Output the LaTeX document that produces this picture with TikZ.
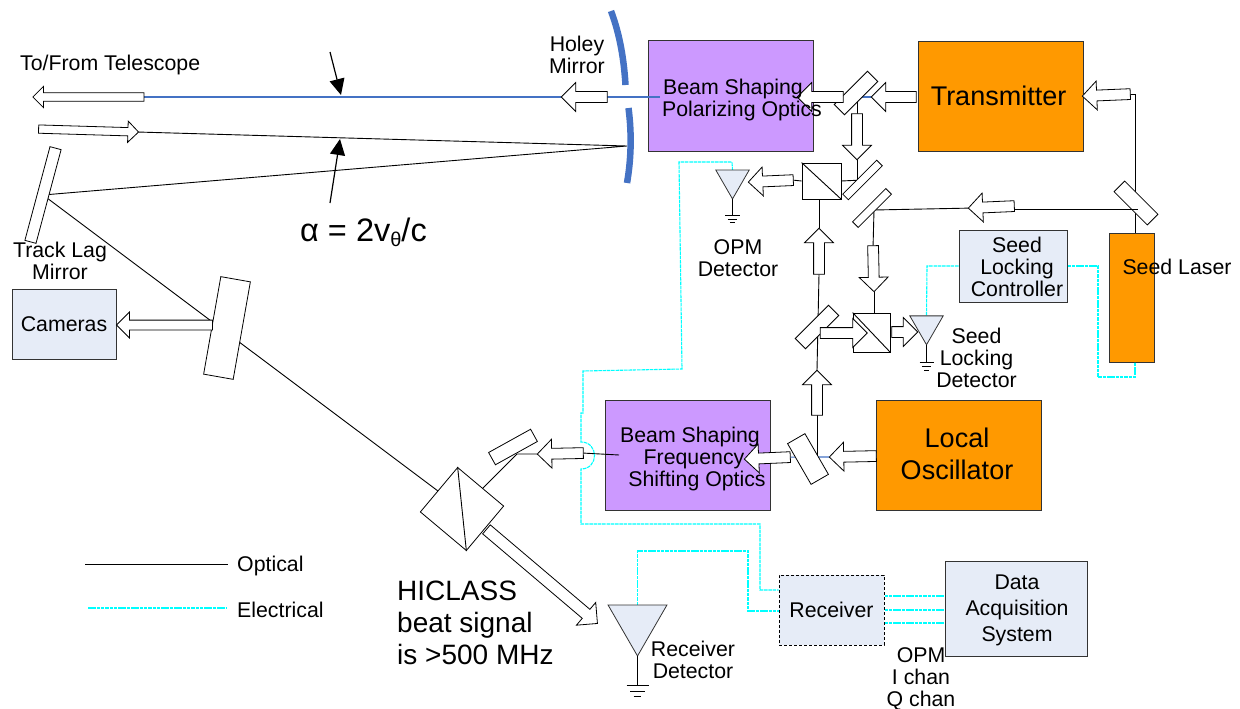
\documentclass[tikz,border=0pt]{standalone}
\usepackage{fontspec}
\setmainfont{Liberation Sans}
\usetikzlibrary{arrows.meta,shapes.arrows,shapes.geometric}
\pgfdeclarelayer{boxes}
\pgfdeclarelayer{beams}
\pgfsetlayers{boxes,beams,main}
\definecolor{orangebox}{HTML}{FF9900}
\definecolor{purplebox}{HTML}{CC99FF}
\definecolor{palebox}{HTML}{E6ECF7}
\definecolor{holeyblue}{HTML}{4472C4}
\definecolor{wirecyan}{RGB}{0,255,255}
\tikzset{
  lab/.style={align=center,inner sep=0pt,font=\fontsize{21.3}{22}\selectfont},
  biglab/.style={align=center,inner sep=0pt,font=\fontsize{27}{32}\selectfont},
  hugelab/.style={align=left,inner sep=0pt,font=\fontsize{28}{32}\selectfont},
  sizedbox/.style n args={2}{rectangle,draw=black!80,line width=1pt,inner sep=0pt,minimum width=#1,minimum height=#2},
  mirror/.style n args={2}{rectangle,draw,fill=white,line width=.8pt,inner sep=0pt,minimum width=#1,minimum height=#2},
  blockarrow/.style={single arrow,draw,fill=white,line width=.8pt,inner xsep=0pt,inner ysep=5pt,outer sep=0pt,
    single arrow head extend=9pt,minimum height=#1},
  smallarrow/.style={blockarrow=#1,inner ysep=3.75pt,single arrow head extend=6.5pt},
  detector/.style={regular polygon,regular polygon sides=3,shape border rotate=180,draw=black!80,fill=palebox,
    line width=.8pt,inner sep=0pt,outer sep=0pt,minimum size=#1},
  beam/.style={line width=.9pt},
  bluebeam/.style={line width=1.2pt,holeyblue},
  wire/.style={line width=1.1pt,wirecyan,dash pattern=on 3.5pt off .8pt},
  holey/.style={line width=6.5pt,holeyblue},
  alphaarrow/.style={line width=1.2pt,-{Triangle[length=16pt,width=15pt]}}
}
% ground symbol: anchor, stem, half width
\newcommand{\earth}[3]{\draw[beam] #1 -- ++(0,#2) ++({-#3},0) -- ++({2*#3},0) ++({-1.65*#3},{.55*#3}) -- ++({1.3*#3},0) ++({-#3},{.5*#3}) -- ++({.7*#3},0);}
\begin{document}
\begin{tikzpicture}[x=1pt,y=-1pt]
\useasboundingbox (0,0) rectangle (1240,709);
% boxes
\begin{pgfonlayer}{boxes}
\node[sizedbox={165pt}{110pt},fill=purplebox] (polbox) at (730.5,96) {};
\node[sizedbox={165pt}{110pt},fill=purplebox] (freqbox) at (687.5,455.5) {};
\node[sizedbox={165pt}{110pt},fill=orangebox] (transmitter) at (1000.5,96.5) {};
\node[sizedbox={165pt}{110pt},fill=orangebox] (localosc) at (958.5,455.5) {};
\node[sizedbox={45pt}{129pt},fill=orangebox] (laser) at (1131.5,297.5) {};
\node[sizedbox={108pt}{72pt},fill=palebox] (lockctl) at (1013,266) {};
\node[sizedbox={104pt}{70pt},fill=palebox,lab] (cameras) at (64,324) {Cameras};
\node[sizedbox={105pt}{70pt},fill=palebox,lab,densely dashed,draw=black] (receiver) at (831.5,610) {Receiver};
\node[sizedbox={142pt}{95pt},fill=palebox] (daq) at (1016,608.5) {};
\end{pgfonlayer}
% mirrors
\node[mirror={47pt}{14.5pt},rotate=45] (mtop) at (856,93) {};
\node[mirror={48pt}{8pt},rotate=45] (mopm) at (862.5,180) {};
\node[mirror={47pt}{8pt},rotate=45] (mseed) at (872,208) {};
\node[mirror={47pt}{15pt},rotate=-45] (mlaser) at (1136,203) {};
\node[mirror={47pt}{14.5pt},rotate=45] (mlock) at (817,327) {};
\node[mirror={47pt}{20pt},rotate=-60] (mlo) at (808,459) {};
\node[mirror={48pt}{14pt},rotate=29] (mhic) at (513,447) {};
\node[mirror={97pt}{11.5pt},rotate=75] (tracklag) at (43,195) {};
\node[mirror={99pt}{30pt},rotate=80] (mcam) at (227,328) {};
\node[mirror={60pt}{58pt},rotate=-40] (split) at (462,509) {};
\draw[beam] (split.north west) -- (split.south east);
% cubes
\node[mirror={39pt}{36pt}] (cubeopm) at (821.5,181) {};
\draw[beam] (cubeopm.north west) -- (cubeopm.south east);
\node[mirror={37pt}{39pt}] (cubelock) at (871.5,332.5) {};
\draw[beam] (cubelock.north west) -- (cubelock.south east);
% detectors
\node[detector=38.5pt] (opmdet) at (732.5,179.7) {};
\node[detector=38.5pt] (lockdet) at (926.5,325.5) {};
\node[detector=68pt] (recdet) at (637.5,622) {};
\earth{(opmdet.south)}{16}{7.5}
\earth{(lockdet.south)}{18}{7}
\earth{(recdet.south)}{29}{11}
% block arrows
\node[smallarrow=111pt,rotate=180] (atel) at (90.5,97) {};
\node[smallarrow=100pt,rotate=-1.7] (aret) at (86.5,130.5) {};
\node[blockarrow=46pt,rotate=180] (ahole) at (587,97) {};
\node[blockarrow=46pt,rotate=180] (apol) at (823,97) {};
\node[blockarrow=45pt,rotate=180] (atrans) at (896.5,97) {};
\node[blockarrow=46pt,rotate=-90] (adown) at (857,134) {};
\node[blockarrow=45pt,rotate=182.5] (aopm) at (773.5,181) {};
\node[blockarrow=46pt,rotate=90] (aup) at (819,254) {};
\node[blockarrow=48pt,rotate=182.4] (aseed) at (1109,95) {};
\node[blockarrow=46pt,rotate=182.5] (aseedw) at (994,207) {};
\node[blockarrow=46pt,rotate=-88.8] (aseeds) at (873.5,266) {};
\node[blockarrow=47pt] (alock) at (841,333) {};
\node[blockarrow=26pt] (adet) at (902,332) {};
\node[blockarrow=45pt,rotate=90] (aup2) at (817,395.5) {};
\node[blockarrow=47pt,rotate=181.2] (alo) at (855.5,456.5) {};
\node[blockarrow=46pt,rotate=182.5] (afreq) at (770,458) {};
\node[blockarrow=46pt,rotate=181.2] (ahic) at (563,453.5) {};
\node[blockarrow=145.5pt,inner ysep=5.5pt,rotate=-40.3] (abeat) at (539.7,574.5) {};
\node[blockarrow=96pt,inner ysep=4.5pt,single arrow head extend=8pt,rotate=180] (acam) at (167,325) {};
% free ends of the beams
\coordinate (polend) at (660,97);
\coordinate (holeyhit) at (627,146);
\coordinate (hichit) at (517,454);
\coordinate (freqend) at (619,455);
\coordinate (seedtap) at (1138,209);
\coordinate (seedhit) at (874,210);
\coordinate (laserout) at (1135.5,233);
% beams
\begin{pgfonlayer}{beams}
\draw[bluebeam] (atel.tail) -- (ahole.tip);
\draw[bluebeam] (ahole.tail) -- (polend);
\draw[bluebeam] (apol.tail) -- (atrans.tip);
\draw[bluebeam] (afreq.tail) -- (alo.tip);
\draw[beam] (aret.tip) -- (holeyhit) -- (tracklag.center) -- (split.center) -- (hichit) -- (ahic.tip);
\draw[beam] (ahic.tail) -- (freqend);
\draw[beam] (aseed.tail) -- (aseed.tail -| laserout) -- (laserout);
\draw[beam] (aseedw.tip) -- (seedhit) -- (aseeds.tail);
\draw[beam] (aseeds.tip) -- (aseeds.tip |- cubelock.north);
\draw[beam] (adown.tail) -- (adown.tail |- mtop.center);
\draw[beam] (adown.tip) -- (adown.tip |- mopm.center);
\draw[beam] (cubeopm.east) -- (mopm.center);
\draw[beam] (aopm.tail) -- (cubeopm.west);
\draw[beam] (aup.tip) -- (aup.tip |- cubeopm.south);
\draw[beam] (aup2.tip) -- (aup.tail);
\draw[beam] (aup2.tail) -- (aup2.tail |- alo.tip);
% electrical
\coordinate (jumpa) at (581,442);
\coordinate (jumpb) at (581,469);
\draw[wire] (opmdet.north) -- (732,162) -- (679,162) -- (682,369) -- (583,371) -- (583,413) -- (581,413) -- (jumpa)
  .. controls (599,442) and (599,469) .. (jumpb) -- (581,524) -- (760,524) -- (760,590) -- (receiver.west |- 779,590);
\draw[wire] (recdet.north) -- (637.5,551) -- (748,551) -- (748,611) -- (receiver.west |- 779,611);
\draw[wire] (lockctl.west) -- (927,266) -- (lockdet.north);
\draw[wire] (lockctl.east) -- (1098,266) -- (1098,377) -- (1135,377) -- (1135,362);
\draw[wire] (receiver.east |- 884,596) -- (daq.west |- 945,596);
\draw[wire] (receiver.east |- 884,610) -- (daq.west |- 945,610);
\draw[wire] (receiver.east |- 884,623) -- (daq.west |- 945,623);
\end{pgfonlayer}
\draw[beam] (aseedw.tail |- seedtap) -- (seedtap);
% holey mirror
\draw[holey] (611,11) .. controls (620,35) and (624,60) .. (625.5,85);
\draw[holey] (628.5,108) .. controls (632,135) and (631,160) .. (627,183);
% point ahead angle
\coordinate (alphaa) at (330,52);
\coordinate (alphab) at (341,95);
\coordinate (alphac) at (330,203);
\coordinate (alphad) at (340,139);
\draw[alphaarrow] (alphaa) -- (alphab);
\draw[alphaarrow] (alphac) -- (alphad);
% labels
\node[lab,anchor=west] (tellab) at (20,65) {To/From Telescope};
\node[lab] (holeylab) at (577,55) {Holey\\Mirror};
\node[lab] (tracklab) at (60,261) {Track Lag\\Mirror};
\node[lab] (poltext) at (742,100) {Beam Shaping\hspace*{18pt}\\Polarizing Optics};
\node[lab] (freqtext) at (694,459) {Beam Shaping\hspace*{8pt}\\Frequency\\\hspace*{6pt}Shifting Optics};
\node[biglab] (transtext) at (998.5,96) {Transmitter};
\node[biglab] (osctext) at (957,453.5) {Local\\Oscillator};
\node[lab] (locktext) at (1017,267) {Seed\\Locking\\Controller};
\node[lab,font=\fontsize{21.3}{26}\selectfont] (daqtext) at (1017,610.5) {Data\\Acquisition\\System};
\node[lab] (opmlab) at (738,258) {OPM\\Detector};
\node[lab] (locklab) at (976.5,358) {Seed\\Locking\\Detector};
\node[lab] (laserlab) at (1177,267) {Seed Laser};
\node[lab] (reclab) at (693,660) {Receiver\\Detector};
\node[lab] (chanlab) at (921,679) {OPM\\I chan\\Q chan};
\node[font=\fontsize{32.5}{32}\selectfont,inner sep=0pt,anchor=west] (alphalab) at (300,232) {α = 2v\raisebox{-5pt}{\fontsize{20}{20}\selectfont θ}/c};
\node[hugelab,anchor=west] (hiclab) at (397,623) {HICLASS\\beat signal\\is >500 MHz};
% legend
\coordinate (opta) at (85,564);
\coordinate (optb) at (228,564);
\coordinate (wirea) at (88,608);
\coordinate (wireb) at (227,608);
\draw[beam] (opta) -- (optb);
\draw[wire] (wirea) -- (wireb);
\node[lab,anchor=west] (optlab) at (237,566) {Optical};
\node[lab,anchor=west] (wirelab) at (237,610) {Electrical};
\end{tikzpicture}
\end{document}
